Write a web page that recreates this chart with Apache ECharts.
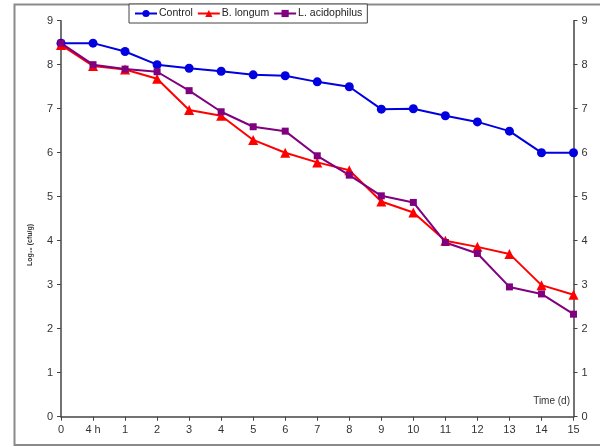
<!DOCTYPE html>
<html>
<head>
<meta charset="utf-8">
<script src="https://cdn.jsdelivr.net/npm/echarts@6/dist/echarts.min.js"></script>
<style>html,body{margin:0;padding:0;background:#fff;}#c{width:600px;height:447px;}</style>
</head>
<body>
<div id="c"></div>
<script>
var categories = ['0','4 h','1','2','3','4','5','6','7','8','9','10','11','12','13','14','15'];
var control = [8.49,8.49,8.30,8.00,7.92,7.85,7.77,7.75,7.61,7.50,6.99,7.00,6.84,6.70,6.49,6.00,6.00];
var bLongum = [8.45,7.97,7.89,7.68,6.97,6.84,6.29,6.00,5.78,5.60,4.89,4.64,4.00,3.86,3.70,2.99,2.77];
var lAcidophilus = [8.49,8.00,7.90,7.84,7.41,6.93,6.59,6.49,5.93,5.49,5.02,4.87,3.96,3.71,2.95,2.79,2.33];
var yTicks = [0,9,1];

var chart = echarts.init(document.getElementById('c'), null, {renderer:'canvas'});
var axisTxt = {color:'#333', fontSize:11, fontFamily:'Liberation Sans, Arial, sans-serif'};
var yAxisBase = function(pos){
  return {
    type:'value', position:pos, min:yTicks[0], max:yTicks[1], interval:yTicks[2],
    axisLine:{show:true, lineStyle:{color:'#444', width:1.5}},
    axisTick:{show:true, length:4, lineStyle:{color:'#444'}},
    axisLabel:Object.assign({margin:8}, axisTxt),
    splitLine:{show:false}
  };
};
chart.setOption({
  animation:false,
  backgroundColor:'#fff',
  graphic:[
    {type:'rect', shape:{x:14.5,y:4.5,width:600,height:440.5}, style:{fill:'none', stroke:'#8a8a8a', lineWidth:2}, z:0},
    {type:'text', x:30, y:245, rotation:Math.PI/2, style:{text:'Log\u2081\u2080 (cfu/g)', fontSize:7, fontWeight:'bold', fill:'#333', fontFamily:'Liberation Sans, Arial, sans-serif', align:'center', verticalAlign:'middle'}},
    {type:'text', right:30, top:396, style:{text:'Time (d)', fontSize:10, fill:'#333', fontFamily:'Liberation Sans, Arial, sans-serif'}}
  ],
  legend:{
    top:4, left:129, itemWidth:22, itemHeight:9, itemGap:4,
    padding:[4,5,4,5],
    borderColor:'#444', borderWidth:1, backgroundColor:'#fff',
    textStyle:{color:'#222', fontSize:10.5, fontFamily:'Liberation Sans, Arial, sans-serif', padding:[0,0,0,-3]},
    data:['Control','B. longum','L. acidophilus']
  },
  grid:{left:61, right:26.5, top:20.7, bottom:30.3, containLabel:false},
  xAxis:{
    type:'category', data:categories, boundaryGap:false,
    axisLine:{lineStyle:{color:'#444', width:1.5}},
    axisTick:{show:true, alignWithLabel:true, length:4, lineStyle:{color:'#444'}},
    axisLabel:Object.assign({margin:8, interval:0}, axisTxt),
    splitLine:{show:false}
  },
  yAxis:[yAxisBase('left'), yAxisBase('right')],
  series:[
    {name:'Control', type:'line', data:control, symbol:'circle', symbolSize:9, color:'#0000e0', lineStyle:{width:2}},
    {name:'B. longum', type:'line', data:bLongum, symbol:'triangle', symbolSize:10, color:'#ff0000', lineStyle:{width:2}},
    {name:'L. acidophilus', type:'line', data:lAcidophilus, symbol:'rect', symbolSize:7, color:'#800080', lineStyle:{width:2}}
  ]
});
</script>
</body>
</html>
